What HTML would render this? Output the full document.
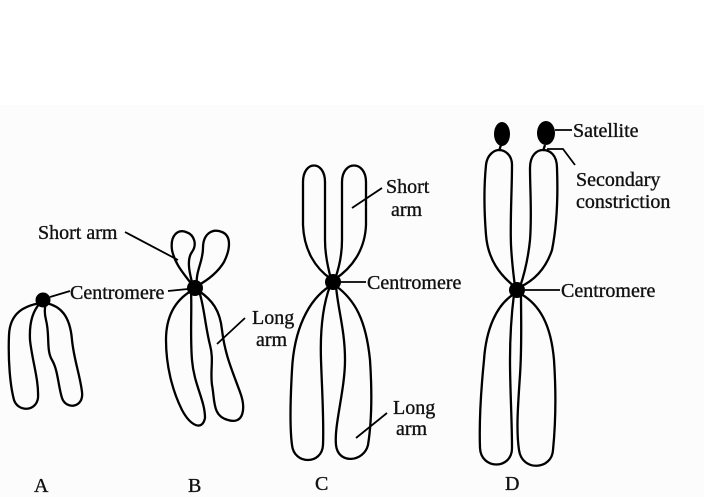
<!DOCTYPE html>
<html><head><meta charset="utf-8"><style>
html,body{margin:0;padding:0;background:#fff}
svg{display:block}
text{font-family:"Liberation Serif",serif;font-size:20px;fill:#111;stroke:#111;stroke-width:0.35}
</style></head><body>
<svg width="704" height="497" viewBox="0 0 704 497">
<rect x="0" y="105" width="704" height="392" fill="#fcfcfc"/>
<g fill="none" stroke="#000" stroke-width="2.3" stroke-linejoin="round">
<!-- A -->
<path d="M40,303 C25,306 10,312 9,335 C8,360 10,385 14,400 C18,412 36,412 38,398 C39,380 32,360 30,340 C29,320 34,310 40,303 Z"/>
<path d="M46,303 C60,306 70,315 72,340 C74,360 80,375 82,392 C84,408 66,410 62,398 C58,385 58,370 52,360 C46,350 50,335 46,320 C44,312 45,306 46,303 Z"/>
<!-- B short arms -->
<path d="M193,286 C185,275 175,265 172,250 C170,235 178,229 186,232 C195,235 197,245 192,252 C186,260 190,275 193,286 Z"/>
<path d="M197,286 C195,272 203,262 203,248 C203,234 212,228 222,232 C232,236 230,250 224,262 C218,272 208,280 197,286 Z"/>
<!-- B long arms -->
<path d="M191,291 C176,300 166,315 166,340 C166,365 172,390 182,410 C190,425 202,432 205,418 C205,400 194,385 192,360 C190,335 192,310 191,291 Z"/>
<path d="M199,291 C212,300 220,310 222,330 C225,355 232,370 240,392 C246,408 244,425 228,420 C212,416 215,400 212,385 C210,370 214,360 210,345 C205,325 204,305 199,291 Z"/>
<!-- C -->
<path d="M331,279 C315,268 304,250 303,225 L303,182 C303,160 325,160 325,182 L325,240 C325,255 328,268 331,279 Z"/>
<path d="M335,279 C339,268 342,255 342,240 L342,182 C342,160 366,160 366,182 L366,225 C365,250 352,268 335,279 Z"/>
<path d="M330,286 C308,300 294,330 292,370 C290,405 290,430 292,445 C294,465 322,465 323,445 C324,420 322,390 321,360 C320,330 323,305 330,286 Z"/>
<path d="M336,286 C338,310 345,330 345,360 C345,390 334,425 336,445 C338,465 364,462 368,445 C372,420 372,390 370,360 C366,320 355,300 336,286 Z"/>
<!-- D -->
<path d="M515,287 C500,275 488,260 486,235 C484,210 484,185 486,165 C487,155 494,150 499,150 C505,150 512,155 512,165 C512,190 510,220 511,245 C512,265 514,278 515,287 Z"/>
<path d="M520,287 C524,275 528,260 530,240 C532,215 530,190 530,168 C530,155 537,150 543,150 C550,150 557,155 557,168 C558,195 557,225 552,250 C546,268 535,280 520,287 Z"/>
<path d="M514,294 C496,305 486,330 484,360 C481,390 479,420 480,448 C481,470 512,470 512,448 C512,420 510,390 510,360 C510,330 512,310 514,294 Z"/>
<path d="M521,294 C521,320 522,345 520,375 C518,405 516,430 519,450 C522,472 552,470 553,450 C556,420 556,390 554,360 C551,325 540,305 521,294 Z"/>
<line x1="501" y1="145" x2="499" y2="151"/>
<line x1="545" y1="145" x2="543" y2="151"/>
</g>
<!-- centromeres & satellites -->
<g fill="#000">
<circle cx="43" cy="300" r="7.5"/>
<circle cx="195" cy="288" r="8"/>
<circle cx="333" cy="282" r="8"/>
<circle cx="517" cy="290" r="8"/>
<ellipse cx="502" cy="134" rx="8" ry="12"/>
<ellipse cx="546" cy="133" rx="9" ry="12"/>
</g>
<!-- leader lines -->
<g fill="none" stroke="#000" stroke-width="1.8">
<line x1="50" y1="297" x2="70" y2="291"/>
<line x1="168" y1="291" x2="188" y2="289"/>
<line x1="125" y1="232" x2="178" y2="260"/>
<line x1="217" y1="344" x2="245" y2="318"/>
<line x1="340" y1="282" x2="366" y2="282"/>
<line x1="352" y1="208" x2="382" y2="188"/>
<line x1="356" y1="438" x2="387" y2="413"/>
<line x1="525" y1="290" x2="560" y2="290"/>
<line x1="555" y1="130" x2="572" y2="130"/>
<polyline points="547,149 563,149 575,165"/>
</g>
<text x="38" y="239">Short arm</text>
<text x="70" y="299">Centromere</text>
<text x="252" y="324">Long</text>
<text x="256" y="346">arm</text>
<text x="386" y="193">Short</text>
<text x="391" y="216">arm</text>
<text x="367" y="289">Centromere</text>
<text x="393" y="414">Long</text>
<text x="396" y="435">arm</text>
<text x="561" y="297">Centromere</text>
<text x="573" y="137">Satellite</text>
<text x="576" y="186">Secondary</text>
<text x="576" y="208">constriction</text>
<text x="34" y="492">A</text>
<text x="188" y="492">B</text>
<text x="315" y="490">C</text>
<text x="505" y="490">D</text>
</svg>
</body></html>
